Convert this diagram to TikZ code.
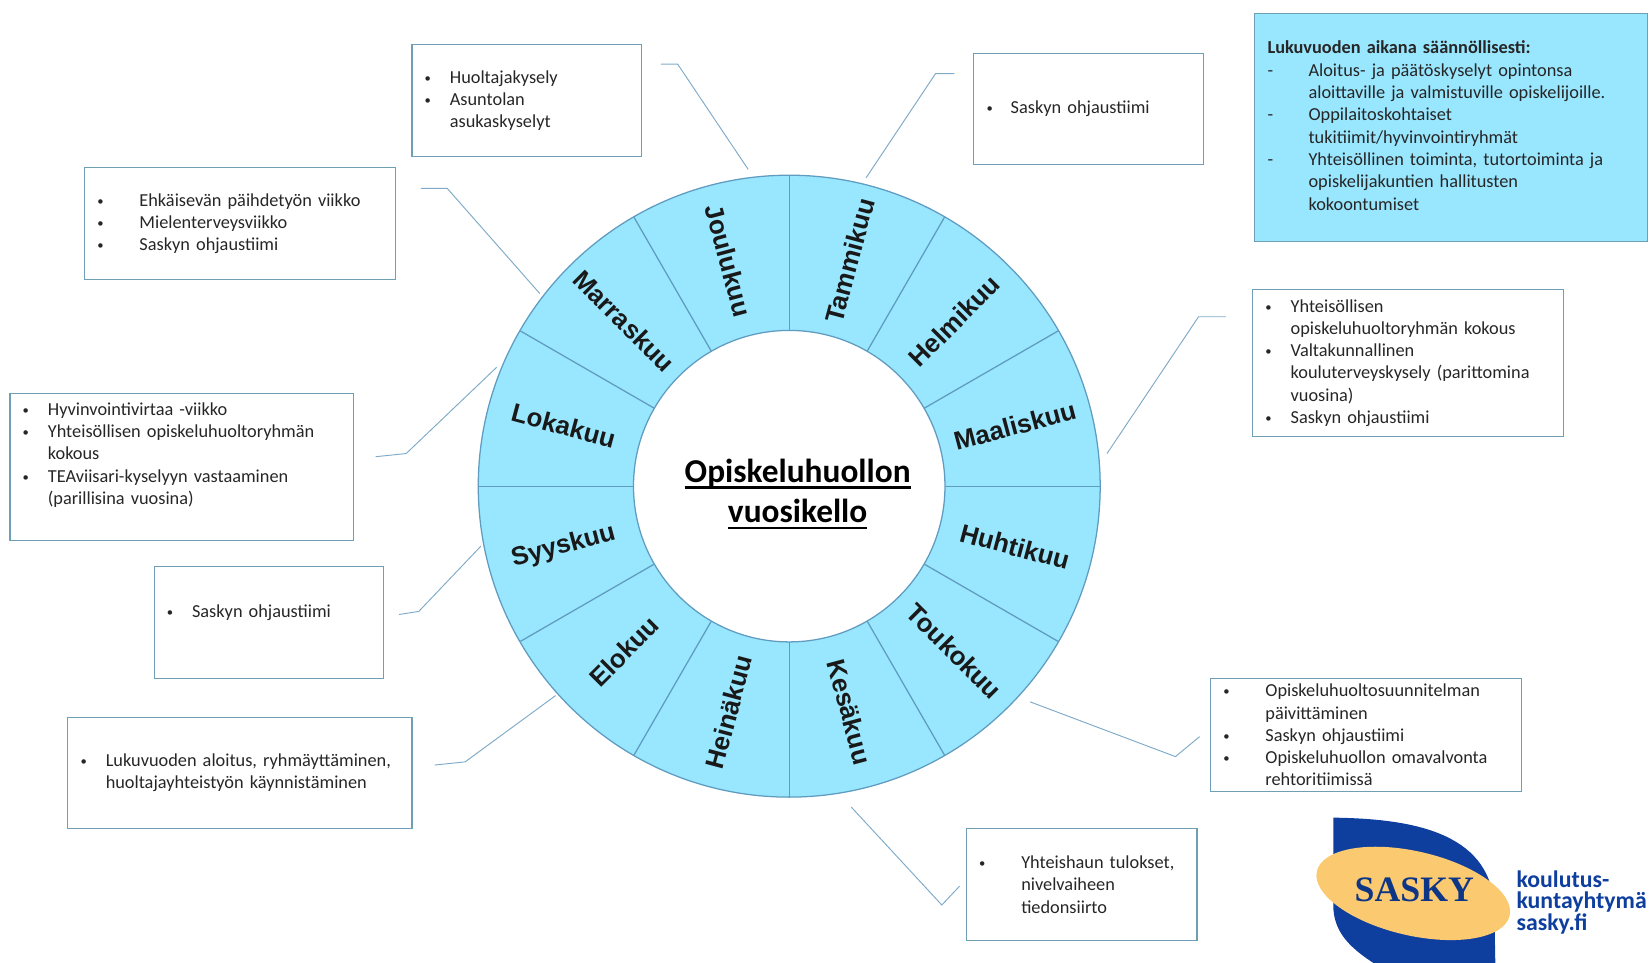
\documentclass[tikz,border=0pt]{standalone}
\usepackage{fontspec}
\setmainfont{Carlito}
\newfontfamily\monthfont{Liberation Sans}
\newfontfamily\logofont{Liberation Serif}
\usepackage{xcolor}
\usetikzlibrary{shapes.geometric}

\definecolor{ringblue}{HTML}{99E6FF}
\definecolor{edgeblue}{HTML}{5F9CC0}
\definecolor{boxedge}{HTML}{6F9FB5}
\definecolor{leaderblue}{HTML}{7FAAC8}
\definecolor{logoblue}{HTML}{0F3F9E}
\definecolor{logoyellow}{HTML}{FBC970}
\definecolor{bodygray}{HTML}{262626}

\newcommand{\itm}[2][24pt]{\makebox[#1][l]{\raisebox{1pt}{\fontsize{12}{12}\selectfont•}}#2}
\newcommand{\cnt}[2][24pt]{\hspace*{#1}#2}
\newcommand{\dsh}[1]{\makebox[39pt][l]{-}#1}
\newcommand{\ttl}[1]{\vtop{\hbox{\raisebox{0pt}[\height][0pt]{#1}}\kern 3.4pt\hrule height 2.4pt}}

\tikzset{
	infobox/.style n args={2}{draw=boxedge, line width=1pt, anchor=north west, align=left,
		inner xsep=12pt, inner ysep=0pt, text width=#1pt, minimum height=#2pt, text=bodygray,
		font=\fontsize{17.4}{21.2}\selectfont},
	monthlabel/.style={font=\monthfont\bfseries\fontsize{24.6}{28}\selectfont, text=black!90},
	leader/.style={draw=leaderblue, line width=0.9pt}
}

\begin{document}
\begin{tikzpicture}[x=1pt, y=-1pt]
	\useasboundingbox (0,0) rectangle (1568,915);

	% Ring
	\node[circle, draw=edgeblue, fill=ringblue, line width=1.2pt, minimum size=591pt, inner sep=0pt] (ring) at (750,462) {};
	\foreach \ang in {0,30,...,330}
		\draw[edgeblue, line width=1.2pt] ([shift={(\ang:148)}]ring.center) -- ([shift={(\ang:295)}]ring.center);
	\node[circle, draw=edgeblue, fill=white, line width=1.2pt, minimum size=296pt, inner sep=0pt] (hub) at (750,462) {};

	% Months
	\foreach \num/\ang/\rot/\mon in {1/-75/75/Tammikuu, 2/-45/45/Helmikuu, 3/-15/15/Maaliskuu, 4/15/-15/Huhtikuu,
			5/45/-45/Toukokuu, 6/75/-75/Kesäkuu, 7/105/75/Heinäkuu, 8/135/45/Elokuu,
			9/165/15/Syyskuu, 10/195/-15/Lokakuu, 11/225/-45/Marraskuu, 12/255/-75/Joulukuu}
		\node[monthlabel, rotate=\rot] (month\num) at ([shift={(\ang:222)}]ring.center) {\mon};

	% Title
	\node[align=center, font=\bfseries\fontsize{31.7}{38.5}\selectfont, text=black] (title) at (758,469.5)
		{\ttl{Opiskeluhuollon}\\\ttl{vuosikello}};

	% Boxes
	\node[infobox={194}{106}] (huoltaja) at (391,42)
		{\itm{Huoltajakysely}\\\itm{Asuntolan}\\\cnt{asukaskyselyt}};
	\node[infobox={194}{106}] (tammi) at (925,50)
		{\itm[23pt]{Saskyn ohjaustiimi}};
	\node[infobox={271}{106}] (paihde) at (80,159)
		{\itm[40pt]{Ehkäisevän päihdetyön viikko}\\\itm[40pt]{Mielenterveysviikko}\\\itm[40pt]{Saskyn ohjaustiimi}};
	\node[infobox={302}{140}] (hyvinvointi) at (9,373)
		{\itm{Hyvinvointivirtaa -viikko}\\\itm{Yhteisöllisen opiskeluhuoltoryhmän}\\\cnt{kokous}\\\itm{TEAviisari-kyselyyn vastaaminen}\\\cnt{(parillisina vuosina)}\\[4pt]\mbox{}};
	\node[infobox={194}{106}] (syys) at (146,538)
		{\itm{Saskyn ohjaustiimi}\\\mbox{}};
	\node[infobox={303}{106}] (aloitus) at (64,681)
		{\itm{Lukuvuoden aloitus, ryhmäyttäminen,}\\\cnt{huoltajayhteistyön käynnistäminen}};
	\node[infobox={271}{139}] (yhteis) at (1190,275)
		{\itm{Yhteisöllisen}\\\cnt{opiskeluhuoltoryhmän kokous}\\\itm{Valtakunnallinen}\\\cnt{kouluterveyskysely (parittomina}\\\cnt{vuosina)}\\\itm{Saskyn ohjaustiimi}};
	\node[infobox={271}{108}] (suunnitelma) at (1150,644)
		{\itm[40pt]{Opiskeluhuoltosuunnitelman}\\\cnt[40pt]{päivittäminen}\\\itm[40pt]{Saskyn ohjaustiimi}\\\itm[40pt]{Opiskeluhuollon omavalvonta}\\\cnt[40pt]{rehtoritiimissä}};
	\node[infobox={195}{106}] (haku) at (918,787)
		{\itm[40pt]{Yhteishaun tulokset,}\\\cnt[40pt]{nivelvaiheen}\\\cnt[40pt]{tiedonsiirto}};
	\node[infobox={349}{217}, fill=ringblue, inner xsep=12pt] (saannollinen) at (1192,12)
		{\textbf{Lukuvuoden aikana säännöllisesti:}\\\dsh{Aloitus- ja päätöskyselyt opintonsa}\\\cnt[39pt]{aloittaville ja valmistuville opiskelijoille.}\\\dsh{Oppilaitoskohtaiset}\\\cnt[39pt]{tukitiimit/hyvinvointiryhmät}\\\dsh{Yhteisöllinen toiminta, tutortoiminta ja}\\\cnt[39pt]{opiskelijakuntien hallitusten}\\\cnt[39pt]{kokoontumiset}\\[-18pt]\mbox{}};

	% Leader lines
	\coordinate (huoltaja-a) at (628,61);
	\coordinate (huoltaja-b) at (644,61);
	\coordinate (huoltaja-c) at (711,161);
	\draw[leader] (huoltaja-a) -- (huoltaja-b) -- (huoltaja-c);
	\coordinate (tammi-a) at (907,70);
	\coordinate (tammi-b) at (889,70);
	\coordinate (tammi-c) at (823,169);
	\draw[leader] (tammi-a) -- (tammi-b) -- (tammi-c);
	\coordinate (paihde-a) at (400,179);
	\coordinate (paihde-b) at (425,179);
	\coordinate (paihde-c) at (513,279);
	\draw[leader] (paihde-a) -- (paihde-b) -- (paihde-c);
	\coordinate (hyvinvointi-a) at (357,434);
	\coordinate (hyvinvointi-b) at (386,431);
	\coordinate (hyvinvointi-c) at (472,349);
	\draw[leader] (hyvinvointi-a) -- (hyvinvointi-b) -- (hyvinvointi-c);
	\coordinate (syys-a) at (379,584);
	\coordinate (syys-b) at (398,581);
	\coordinate (syys-c) at (457,519);
	\draw[leader] (syys-a) -- (syys-b) -- (syys-c);
	\coordinate (aloitus-a) at (413,727);
	\coordinate (aloitus-b) at (442,724);
	\coordinate (aloitus-c) at (528,661);
	\draw[leader] (aloitus-a) -- (aloitus-b) -- (aloitus-c);
	\coordinate (yhteis-a) at (1165,301);
	\coordinate (yhteis-b) at (1139,301);
	\coordinate (yhteis-c) at (1052,431);
	\draw[leader] (yhteis-a) -- (yhteis-b) -- (yhteis-c);
	\coordinate (suunnitelma-a) at (1140,700);
	\coordinate (suunnitelma-b) at (1117,719);
	\coordinate (suunnitelma-c) at (979,667);
	\draw[leader] (suunnitelma-a) -- (suunnitelma-b) -- (suunnitelma-c);
	\coordinate (haku-a) at (912,842);
	\coordinate (haku-b) at (895,860);
	\coordinate (haku-c) at (809,767);
	\draw[leader] (haku-a) -- (haku-b) -- (haku-c);

	% Logo
	\fill[logoblue] (1267,777) .. controls (1340,778) and (1415,790) .. (1420,860) -- (1421,915) -- (1305,915)
		.. controls (1282,900) and (1267,885) .. (1267,860) -- cycle;
	\node[ellipse, fill=logoyellow, rotate=-13, minimum width=188pt, minimum height=80pt, inner sep=0pt] (oval) at (1343,849) {};
	\node[font=\logofont\bfseries\fontsize{34}{36}\selectfont, text=logoblue!85!black] (sasky) at (1344,846) {SASKY};
	\node[anchor=north west, inner sep=0pt, align=left, text=logoblue, font=\bfseries\fontsize{22.6}{20.5}\selectfont] (koulutus) at (1441,827)
		{koulutus-\\kuntayhtymä\\sasky.fi};
\end{tikzpicture}
\end{document}
